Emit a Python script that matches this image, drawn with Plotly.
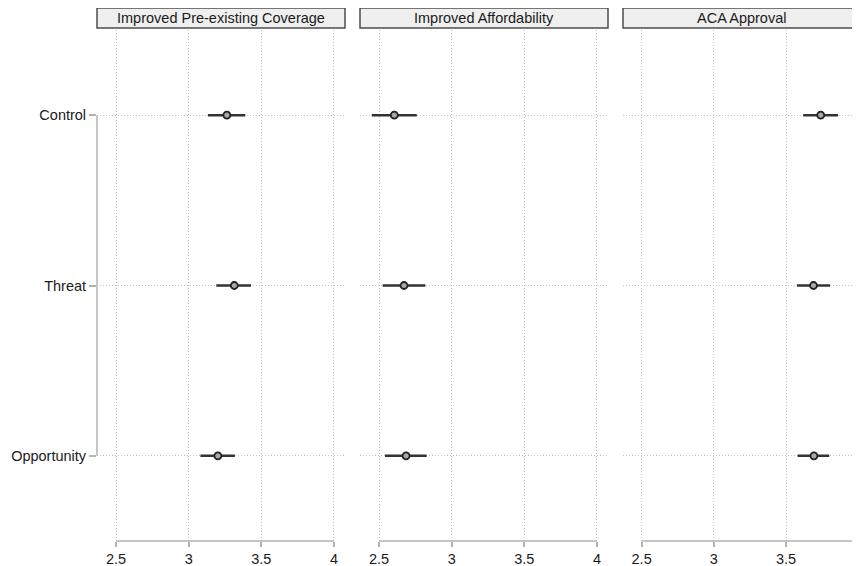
import plotly.graph_objects as go

# ---- data ----
panels = ["Improved Pre-existing Coverage", "Improved Affordability", "ACA Approval"]
groups = ["Control", "Threat", "Opportunity"]

pre_mean = [3.263, 3.314, 3.201]
pre_low = [3.132, 3.190, 3.081]
pre_high = [3.390, 3.429, 3.318]

aff_mean = [2.605, 2.672, 2.686]
aff_low = [2.450, 2.525, 2.541]
aff_high = [2.760, 2.819, 2.828]

aca_mean = [3.740, 3.690, 3.693]
aca_low = [3.619, 3.575, 3.580]
aca_high = [3.860, 3.805, 3.799]

x_ticks = [2.5, 3, 3.5, 4]
x_ticklabels = ["2.5", "3", "3.5", "4"]

series = [(pre_mean, pre_low, pre_high), (aff_mean, aff_low, aff_high), (aca_mean, aca_low, aca_high)]

FONT = "Liberation Sans, Arial, Helvetica, sans-serif"
FS = 14.5
TXT = "#1a1a1a"
AX = "#b3b3b3"
GRID = "#c4c4c4"

OFF = 8  # page body margin
W, H = 860 - OFF, 566 - OFF
ML, MR, MT, MB = 97 - OFF, 0, 30 - OFF, 25
plotw = W - ML - MR
ploth = H - MT - MB

def px2dom(p):
    return (p - OFF - ML) / plotw

def py2paper(p):
    return (H - MB - (p - OFF)) / ploth

domains = [
    [px2dom(97), px2dom(345)],
    [px2dom(360), px2dom(608)],
    [px2dom(623), 1.0],
]
ranges = [[2.369, 4.076], [2.369, 4.076], [2.371, 4.012]]

fig = go.Figure()

for i, (m, lo, hi) in enumerate(series):
    xa = "x" if i == 0 else f"x{i+1}"
    ya = "y" if i == 0 else f"y{i+1}"
    fig.add_trace(go.Scatter(
        x=m, y=groups, xaxis=xa, yaxis=ya, mode="markers",
        marker=dict(symbol="circle", size=7, color="#a8a8a8",
                    line=dict(color="#222222", width=1.8)),
        error_x=dict(type="data", symmetric=False,
                     array=[h - v for h, v in zip(hi, m)],
                     arrayminus=[v - l for v, l in zip(m, lo)],
                     thickness=2.5, width=0, color="#333333"),
        showlegend=False, hoverinfo="x+y",
    ))

layout = dict(
    width=W, height=H,
    margin=dict(l=ML, r=MR, t=MT, b=MB, autoexpand=False),
    paper_bgcolor="white", plot_bgcolor="white",
    font=dict(family=FONT, size=FS, color=TXT),
    showlegend=False,
)

shapes = []
annotations = []
for i in range(3):
    sfx = "" if i == 0 else str(i + 1)
    layout[f"xaxis{sfx}"] = dict(
        domain=domains[i], range=ranges[i], anchor=f"y{sfx}",
        tickvals=x_ticks, ticktext=x_ticklabels,
        ticks="outside", ticklen=5, tickwidth=1.5, tickcolor=AX,
        showline=False, zeroline=False, automargin=False,
        ticklabeloverflow="allow",
        showgrid=True, gridcolor=GRID, griddash="1px,2px", gridwidth=1,
        tickfont=dict(size=FS, color=TXT, family=FONT),
        fixedrange=True,
    )
    layout[f"yaxis{sfx}"] = dict(
        domain=[0, 1], anchor=f"x{sfx}",
        type="category", categoryarray=groups[::-1], categoryorder="array",
        range=[-0.5, 2.5],
        showgrid=True, gridcolor=GRID, griddash="1px,2px", gridwidth=1,
        zeroline=False, showline=False, automargin=False,
        ticks="outside" if i == 0 else "", ticklen=7, tickwidth=1.5, tickcolor=AX,
        showticklabels=(i == 0),
        tickfont=dict(size=FS, color=TXT, family=FONT),
        fixedrange=True,
        **({} if i == 0 else {"matches": "y"}),
    )
    # x axis range-frame line
    shapes.append(dict(type="line", xref=f"x{sfx}", yref=f"y{sfx} domain",
                       x0=x_ticks[0], x1=x_ticks[-1], y0=0, y1=0,
                       line=dict(color=AX, width=1.5), layer="above"))
    # strip box
    shapes.append(dict(type="rect", xref=f"x{sfx} domain", yref="paper",
                       x0=0, x1=1.0 if i < 2 else 1.06,
                       y0=py2paper(28), y1=py2paper(8),
                       fillcolor="#efefef", line=dict(color="#4d4d4d", width=1.5)))
    annotations.append(dict(text=panels[i], xref=f"x{sfx} domain", yref="paper",
                            x=0.5, y=py2paper(18),
                            showarrow=False, xanchor="center", yanchor="middle",
                            font=dict(size=FS, color=TXT, family=FONT)))

# y axis range-frame line on first panel
shapes.append(dict(type="line", xref="x domain", yref="y",
                   x0=0, x1=0, y0=0, y1=2,
                   line=dict(color=AX, width=1.5), layer="above"))

layout["shapes"] = shapes
layout["annotations"] = annotations
fig.update_layout(**layout)

fig.write_html("out.html")
